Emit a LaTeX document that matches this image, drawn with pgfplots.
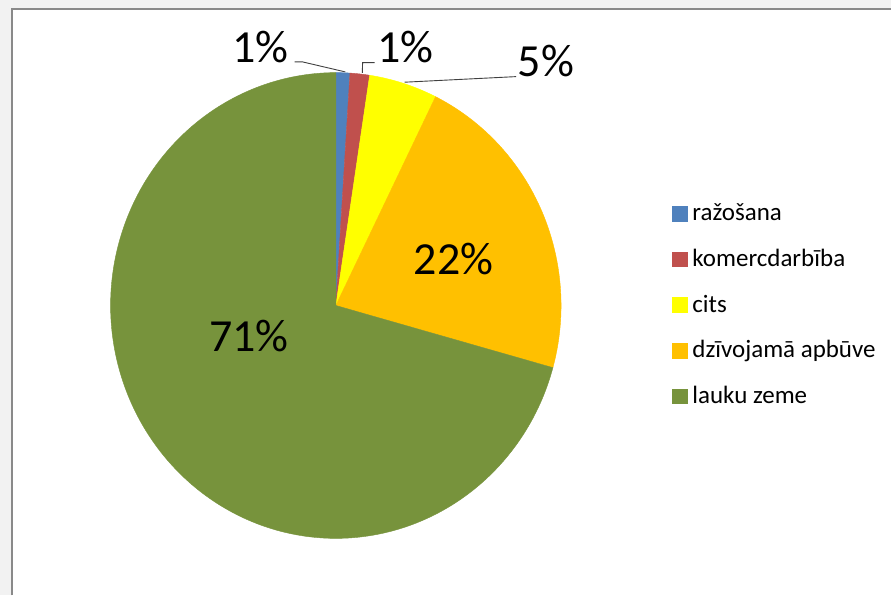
\documentclass[border=0pt]{standalone}
\usepackage{pgfplots}
\pgfplotsset{compat=1.18}
\usepackage{pgfplotstable}
\usepackage{fontspec}
\setmainfont{Carlito}

\definecolor{cRaz}{HTML}{4F81BD}
\definecolor{cKom}{HTML}{C0504D}
\definecolor{cCits}{HTML}{FFFF00}
\definecolor{cDziv}{HTML}{FFC000}
\definecolor{cLauk}{HTML}{77933C}
\definecolor{bgGray}{HTML}{F2F2F2}
\definecolor{frameGray}{HTML}{898989}

\pgfplotstableread{
label value
razosana 1.0
komercdarbiba 1.4
cits 4.9
dzivojama 22.0
lauku 70.7
}\piedata

\begin{document}
\begin{tikzpicture}
\pgfplotstablegetelem{0}{value}\of\piedata \let\vA\pgfplotsretval
\pgfplotstablegetelem{1}{value}\of\piedata \let\vB\pgfplotsretval
\pgfplotstablegetelem{2}{value}\of\piedata \let\vC\pgfplotsretval
\pgfplotstablegetelem{3}{value}\of\piedata \let\vD\pgfplotsretval
\pgfplotstablegetelem{4}{value}\of\piedata \let\vE\pgfplotsretval
\pgfmathsetmacro\aA{0}
\pgfmathsetmacro\aB{\aA+3.6*\vA}
\pgfmathsetmacro\aC{\aB+3.6*\vB}
\pgfmathsetmacro\aD{\aC+3.6*\vC}
\pgfmathsetmacro\aE{\aD+3.6*\vD}
\pgfmathsetmacro\aF{\aE+3.6*\vE}
\def\cx{336.2}\def\cy{290.15}\def\rx{225.5}\def\ry{233.15}
\begin{axis}[
  x=1pt, y=1pt,
  xmin=0, xmax=892, ymin=0, ymax=596,
  hide axis, clip=false,
  enlargelimits=false,
  scale only axis,
]
% background and frame
\addplot[fill=bgGray, draw=none] coordinates {(0,0) (892,0) (892,596) (0,596)} -- cycle;
\addplot[fill=white, draw=none] coordinates {(12.3,0) (892,0) (892,587) (12.3,587)} -- cycle;
\addplot[frameGray, line width=2pt] coordinates {(12.3,0) (12.3,587) (892,587)};
% pie wedges
\addplot[fill=cRaz, draw=cRaz, line width=0.4pt, domain=\aA:\aB, samples=40, variable=\t]
  ({\cx+\rx*sin(\t)}, {\cy+\ry*cos(\t)}) -- (axis cs:\cx,\cy) -- cycle;
\addplot[fill=cKom, draw=cKom, line width=0.4pt, domain=\aB:\aC, samples=40, variable=\t]
  ({\cx+\rx*sin(\t)}, {\cy+\ry*cos(\t)}) -- (axis cs:\cx,\cy) -- cycle;
\addplot[fill=cCits, draw=cCits, line width=0.4pt, domain=\aC:\aD, samples=60, variable=\t]
  ({\cx+\rx*sin(\t)}, {\cy+\ry*cos(\t)}) -- (axis cs:\cx,\cy) -- cycle;
\addplot[fill=cDziv, draw=cDziv, line width=0.4pt, domain=\aD:\aE, samples=120, variable=\t]
  ({\cx+\rx*sin(\t)}, {\cy+\ry*cos(\t)}) -- (axis cs:\cx,\cy) -- cycle;
\addplot[fill=cLauk, draw=cLauk, line width=0.4pt, domain=\aE:\aF, samples=300, variable=\t]
  ({\cx+\rx*sin(\t)}, {\cy+\ry*cos(\t)}) -- (axis cs:\cx,\cy) -- cycle;
% leader lines
\addplot[black!75, line width=0.9pt] coordinates {(295,534) (303,534) (345.7,524)};
\addplot[black!75, line width=0.9pt] coordinates {(375,533.3) (363,533.3) (362.7,523)};
\addplot[black!75, line width=0.9pt] coordinates {(516.7,519.3) (405,513.7)};
% data labels
\node[anchor=base, inner sep=0pt, font=\fontsize{46}{50}\selectfont] at (axis cs:261,533) {1\%};
\node[anchor=base, inner sep=0pt, font=\fontsize{46}{50}\selectfont] at (axis cs:406,533) {1\%};
\node[anchor=base, inner sep=0pt, font=\fontsize{46}{50}\selectfont] at (axis cs:546.5,519) {5\%};
\node[anchor=base, inner sep=0pt, font=\fontsize{46}{50}\selectfont] at (axis cs:454,321) {22\%};
\node[anchor=base, inner sep=0pt, font=\fontsize{46}{50}\selectfont] at (axis cs:249.3,243.7) {71\%};
% legend
\addplot[only marks, mark=square*, mark size=7.3pt, color=cRaz] coordinates {(680.5,382.2)};
\addplot[only marks, mark=square*, mark size=7.3pt, color=cKom] coordinates {(680.5,336.5)};
\addplot[only marks, mark=square*, mark size=7.3pt, color=cCits] coordinates {(680.5,290.8)};
\addplot[only marks, mark=square*, mark size=7.3pt, color=cDziv] coordinates {(680.5,245)};
\addplot[only marks, mark=square*, mark size=7.3pt, color=cLauk] coordinates {(680.5,199.3)};
\node[anchor=base west, inner sep=0pt, font=\fontsize{25}{30}\selectfont] at (axis cs:693,375) {ražošana};
\node[anchor=base west, inner sep=0pt, font=\fontsize{25}{30}\selectfont] at (axis cs:693,329.3) {komercdarbība};
\node[anchor=base west, inner sep=0pt, font=\fontsize{25}{30}\selectfont] at (axis cs:693,283.6) {cits};
\node[anchor=base west, inner sep=0pt, font=\fontsize{25}{30}\selectfont] at (axis cs:693,237.8) {dzīvojamā apbūve};
\node[anchor=base west, inner sep=0pt, font=\fontsize{25}{30}\selectfont] at (axis cs:693,192.1) {lauku zeme};
\end{axis}
\end{tikzpicture}
\end{document}
